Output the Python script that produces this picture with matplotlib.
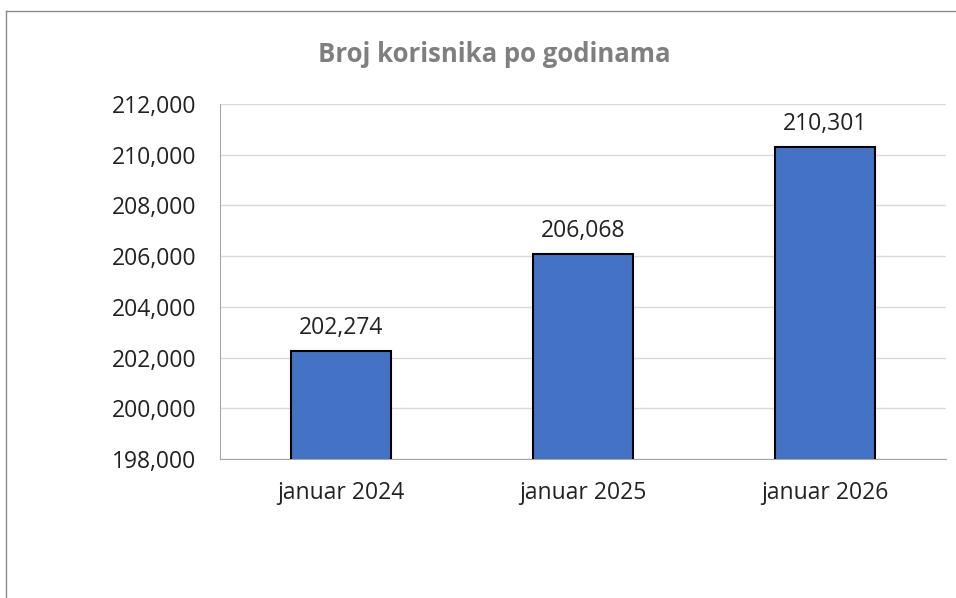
import matplotlib
matplotlib.use('Agg')
import matplotlib.pyplot as plt
from matplotlib.lines import Line2D
from matplotlib.ticker import FuncFormatter

plt.rcParams['font.family'] = ['Open Sans', 'DejaVu Sans']

# Data
categories = ['januar 2024', 'januar 2025', 'januar 2026']
users = [202274, 206068, 210301]
y_ticks = [198000, 200000, 202000, 204000, 206000, 208000, 210000, 212000]

fig = plt.figure(figsize=(9.56, 5.98), dpi=100)
ax = fig.add_axes([220 / 956, 1 - 459 / 598, 726 / 956, 355 / 598])

# Outer chart frame (left and top edges visible)
fig.add_artist(Line2D([6 / 956, 6 / 956], [0, 1 - 11 / 598],
                      transform=fig.transFigure, color='#8c8c8c', lw=1))
fig.add_artist(Line2D([6 / 956, 1], [1 - 11 / 598, 1 - 11 / 598],
                      transform=fig.transFigure, color='#8c8c8c', lw=1))

x = range(len(categories))
bars = ax.bar(x, users, width=0.41, color='#4472C4',
              edgecolor='black', linewidth=1.5, zorder=3)

# Value labels above bars
for rect, val in zip(bars, users):
    ax.annotate(f'{val:,}', (rect.get_x() + rect.get_width() / 2, val),
                xytext=(0, 8), textcoords='offset points',
                ha='center', va='bottom', fontsize=16.5, color='#222222')

ax.set_ylim(198000, 212000)
ax.set_xlim(-0.5, 2.5)
ax.set_yticks(y_ticks)
ax.yaxis.set_major_formatter(FuncFormatter(lambda v, p: f'{int(v):,}'))
ax.set_xticks(list(x))
ax.set_xticklabels(categories)

ax.grid(axis='y', color='#d9d9d9', lw=1, zorder=0)
ax.tick_params(axis='both', length=0, labelsize=16.5, colors='#222222')
ax.tick_params(axis='y', pad=17)
ax.tick_params(axis='x', pad=16)

for side in ['top', 'right']:
    ax.spines[side].set_visible(False)
ax.spines['left'].set_color('#a6a6a6')
ax.spines['bottom'].set_color('#a6a6a6')

fig.text(494 / 956, 1 - 55 / 598, 'Broj korisnika po godinama',
         ha='center', va='center', fontsize=18.5, fontweight='bold',
         color='#7f7f7f')

fig.savefig('out.png', dpi=100, facecolor='white')
